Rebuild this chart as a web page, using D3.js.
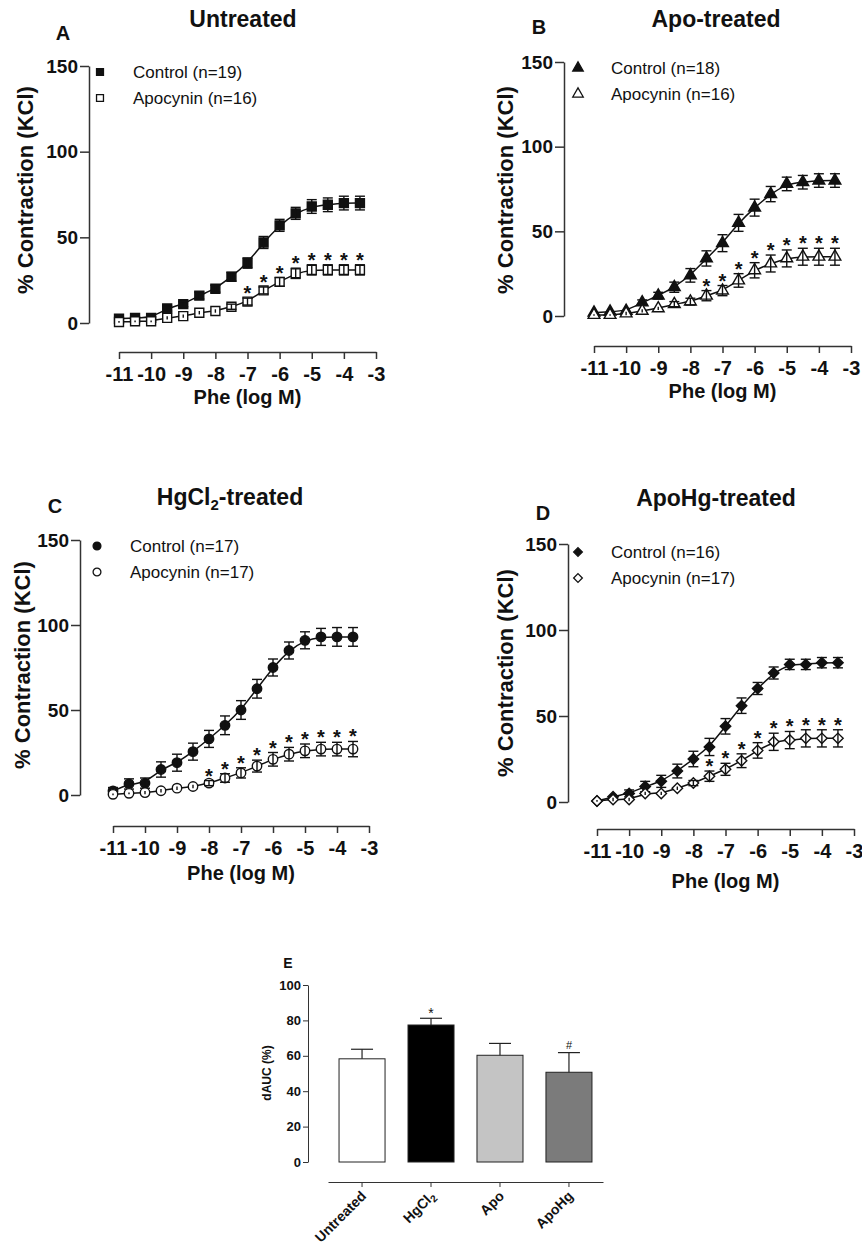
<!DOCTYPE html>
<html>
<head>
<meta charset="utf-8">
<script src="https://cdnjs.cloudflare.com/ajax/libs/d3/7.8.5/d3.min.js"></script>
<style>
	body { margin: 0; background: #fff; }
	svg { display: block; }
	text { font-family: "Liberation Sans", Arial, sans-serif; fill: #111; }
</style>
</head>
<body>
<script>
// Phe concentrations (log M)
var logPhe = [-11, -10.5, -10, -9.5, -9, -8.5, -8, -7.5, -7, -6.5, -6, -5.5, -5, -4.5, -4, -3.5];
var xTicks = [-11, -10, -9, -8, -7, -6, -5, -4, -3];
var yTicks = [0, 50, 100, 150];

// A - Untreated
var untreatedControl    = [2.5, 3, 3, 8.5, 11, 16, 20, 27, 35, 47, 57, 64, 68, 69, 70, 70];
var untreatedControlErr = [1, 1, 1, 1.5, 1.5, 2, 2, 2.5, 3, 3.5, 3.5, 3.5, 4, 4, 4, 4];
var untreatedApo        = [0.6, 1, 1, 3, 4, 6, 7, 9.5, 12.5, 19, 24, 29, 31, 31, 31, 31];
var untreatedApoErr     = [0.5, 0.5, 0.5, 1, 1, 1, 1, 1.5, 2, 2, 2.5, 3, 3, 3, 3, 3];
var untreatedStars      = [-7, -6.5, -6, -5.5, -5, -4.5, -4, -3.5];

// B - Apo-treated
var apoControl    = [2, 2.5, 3, 8, 12, 17, 24, 34, 43, 55, 64, 72, 78, 79, 80, 80];
var apoControlErr = [1, 1, 1, 1.5, 2, 3, 4, 4.5, 5, 5, 5, 4.5, 4, 4, 4, 4];
var apoApo        = [0.6, 0.6, 1.5, 3, 4.5, 7, 8.5, 12, 15, 21, 27, 31, 34, 35, 35, 35];
var apoApoErr     = [0.5, 0.5, 1, 1, 1, 1.5, 2, 3, 3, 4, 4.5, 5, 5, 5, 5, 5];
var apoStars      = [-7.5, -7, -6.5, -6, -5.5, -5, -4.5, -4, -3.5];

// C - HgCl2-treated
var hgControl    = [2.4, 6.5, 7, 15, 19, 25.5, 33, 41, 50, 62.5, 75, 85, 91, 93, 93, 93];
var hgControlErr = [2, 3, 3, 4.5, 5, 5, 5, 5.5, 5.5, 5.5, 5, 5, 5, 5, 5.5, 5.5];
var hgApo        = [0.4, 1, 1.4, 2.5, 4, 5, 7, 10, 13, 17, 21, 24, 26, 27, 27, 27];
var hgApoErr     = [0.5, 0.5, 1, 1, 1, 1, 1.5, 2.5, 3, 3.5, 4, 4, 4, 4, 4, 4.5];
var hgStars      = [-8, -7.5, -7, -6.5, -6, -5.5, -5, -4.5, -4, -3.5];

// D - ApoHg-treated
var apoHgControl    = [0.6, 3, 5, 9, 12, 18, 25, 32, 44, 56, 66, 75, 80, 80, 81, 81];
var apoHgControlErr = [1, 1, 2, 3, 3.5, 4, 4.5, 5, 4.5, 4.5, 3.5, 3.5, 3, 3, 3, 3];
var apoHgApo        = [0.6, 1.4, 1.4, 5, 5, 8, 11, 15, 19, 24, 30, 35, 36, 37, 37, 37];
var apoHgApoErr     = [0.5, 1, 1, 1, 1, 1, 1.5, 3, 3.5, 4, 4.5, 5, 5, 5, 5, 5];
var apoHgStars      = [-7.5, -7, -6.5, -6, -5.5, -5, -4.5, -4, -3.5];

// E - dAUC bars
var groups    = ["Untreated", "HgCl2", "Apo", "ApoHg"];
var dAUC      = [58.3, 77.4, 60.3, 50.7];
var dAUCErr   = [5.4, 3.8, 6.7, 11.1];
var dAUCMarks = ["", "*", "", "#"];
var dAUCTicks = [0, 20, 40, 60, 80, 100];

var svg = d3.select("body")
			.append("svg")
			.attr("width", 862)
			.attr("height", 1249);

// square rotated 45 degrees, as in the original figure
var diamond = d3.symbolDiamond2 || d3.symbolDiamond;

// panel layout (pixels)
var panels = [
	{letter: "A", title: "Untreated", sym: d3.symbolSquare, size: 80,
	 ctrl: untreatedControl, ctrlErr: untreatedControlErr, apo: untreatedApo, apoErr: untreatedApoErr,
	 stars: untreatedStars, n: ["19", "16"],
	 x0: 119, x1: 376, yt: 66, yb: 323, ax: 89, xa: 352,
	 tx: 243, ty: 27, lx: 63, ly: 40, legX: 100, legY: 72, ylabX: 33, ylabY: 190, xlabY: 404},
	{letter: "B", title: "Apo-treated", sym: d3.symbolTriangle, size: 60,
	 ctrl: apoControl, ctrlErr: apoControlErr, apo: apoApo, apoErr: apoApoErr,
	 stars: apoStars, n: ["18", "16"],
	 x0: 594, x1: 851, yt: 62, yb: 316, ax: 564, xa: 346,
	 tx: 716, ty: 27, lx: 539, ly: 34, legX: 578, legY: 68, ylabX: 513, ylabY: 190, xlabY: 398},
	{letter: "C", title: "HgCl", sym: d3.symbolCircle, size: 70,
	 ctrl: hgControl, ctrlErr: hgControlErr, apo: hgApo, apoErr: hgApoErr,
	 stars: hgStars, n: ["17", "17"],
	 x0: 113, x1: 369, yt: 540, yb: 795, ax: 80, xa: 826,
	 tx: 230, ty: 505, lx: 55, ly: 513, legX: 97, legY: 546, ylabX: 30, ylabY: 665, xlabY: 880},
	{letter: "D", title: "ApoHg-treated", sym: diamond, size: 70,
	 ctrl: apoHgControl, ctrlErr: apoHgControlErr, apo: apoHgApo, apoErr: apoHgApoErr,
	 stars: apoHgStars, n: ["16", "17"],
	 x0: 597, x1: 854, yt: 544, yb: 802, ax: 568, xa: 829,
	 tx: 716, ty: 506, lx: 543, ly: 520, legX: 578, legY: 552, ylabX: 513, ylabY: 673, xlabY: 888}
];

function styleAxis(sel, fontSize) {
	sel.selectAll("path, line").attr("stroke", "#333").attr("stroke-width", 1.5);
	sel.selectAll("text")
		.style("font-family", "'Liberation Sans', Arial, sans-serif")
		.style("font-size", fontSize + "px")
		.style("font-weight", "bold")
		.attr("fill", "#111");
}

// plain hyphen minus like the original figure
function plain(d) { return String(d); }

function drawPanel(p) {
	var g = svg.append("g");
	var xScale = d3.scaleLinear().domain([-11, -3]).range([p.x0, p.x1]);
	var yScale = d3.scaleLinear().domain([0, 150]).range([p.yb, p.yt]);

	// axes
	g.append("g")
		.attr("transform", "translate(" + p.ax + ",0)")
		.call(d3.axisLeft(yScale).tickValues(yTicks).tickFormat(plain).tickSize(9).tickSizeOuter(0).tickPadding(2))
		.call(styleAxis, 19);

	g.append("g")
		.attr("transform", "translate(0," + p.xa + ")")
		.call(d3.axisBottom(xScale).tickValues(xTicks).tickFormat(plain).tickSize(7).tickSizeOuter(0).tickPadding(8))
		.call(styleAxis, 20);

	// titles
	var t = g.append("text")
		.attr("x", p.tx).attr("y", p.ty)
		.attr("text-anchor", "middle")
		.style("font-size", "23px").style("font-weight", "bold")
		.text(p.title);
	if (p.title == "HgCl") {
		t.append("tspan").attr("dy", 5).style("font-size", "15px").text("2");
		t.append("tspan").attr("dy", -5).text("-treated");
	}
	g.append("text")
		.attr("x", p.lx).attr("y", p.ly)
		.attr("text-anchor", "middle")
		.style("font-size", "20px").style("font-weight", "bold")
		.text(p.letter);

	g.append("text")
		.attr("transform", "translate(" + p.ylabX + "," + p.ylabY + ") rotate(-90)")
		.attr("text-anchor", "middle")
		.style("font-size", "22px").style("font-weight", "bold")
		.text("% Contraction (KCl)");

	g.append("text")
		.attr("x", (p.x0 + p.x1) / 2).attr("y", p.xlabY)
		.attr("text-anchor", "middle")
		.style("font-size", "20px").style("font-weight", "bold")
		.text("Phe (log M)");

	// fitted curves
	var line = d3.line()
		.x(function(d) { return xScale(d[0]); })
		.y(function(d) { return yScale(d[1]); })
		.curve(d3.curveBasis);

	var series = [
		{vals: p.ctrl, err: p.ctrlErr, fill: "#111"},
		{vals: p.apo, err: p.apoErr, fill: "#fff"}
	];

	series.forEach(function(s) {
		var pts = logPhe.map(function(v, i) { return [v, s.vals[i], s.err[i]]; });

		g.append("path")
			.datum(pts)
			.attr("d", line)
			.attr("fill", "none")
			.attr("stroke", "#111")
			.attr("stroke-width", 1.5);

		g.selectAll(null).data(pts).enter()
			.append("path")
			.attr("transform", function(d) {
				return "translate(" + xScale(d[0]) + "," + yScale(d[1]) + ")";
			})
			.attr("d", d3.symbol().type(p.sym).size(p.size))
			.attr("fill", s.fill)
			.attr("stroke", "#111")
			.attr("stroke-width", 1.4);

		// error bars
		var eb = g.selectAll(null).data(pts).enter().append("g")
			.attr("stroke", "#111").attr("stroke-width", 1.4);
		eb.append("line")
			.attr("x1", function(d) { return xScale(d[0]); })
			.attr("x2", function(d) { return xScale(d[0]); })
			.attr("y1", function(d) { return yScale(d[1] - d[2]); })
			.attr("y2", function(d) { return yScale(d[1] + d[2]); });
		eb.filter(function(d) { return d[2] > 1.2; }).each(function(d) {
			var e = d3.select(this);
			[d[1] - d[2], d[1] + d[2]].forEach(function(v) {
				e.append("line")
					.attr("x1", xScale(d[0]) - 5).attr("x2", xScale(d[0]) + 5)
					.attr("y1", yScale(v)).attr("y2", yScale(v));
			});
		});
	});

	// significance stars above apocynin
	g.selectAll(null).data(p.stars).enter()
		.append("text")
		.attr("x", function(d) { return xScale(d); })
		.attr("y", function(d) {
			var i = logPhe.indexOf(d);
			return yScale(p.apo[i] + p.apoErr[i]) + 2;
		})
		.attr("text-anchor", "middle")
		.style("font-size", "20px").style("font-weight", "bold")
		.text("*");

	// legend
	var labels = ["Control (n=" + p.n[0] + ")", "Apocynin (n=" + p.n[1] + ")"];
	labels.forEach(function(lab, i) {
		var ly = p.legY + i * 26;
		g.append("path")
			.attr("transform", "translate(" + p.legX + "," + ly + ")")
			.attr("d", d3.symbol().type(p.sym).size(48))
			.attr("fill", i == 0 ? "#111" : "#fff")
			.attr("stroke", "#111")
			.attr("stroke-width", 1.3);
		g.append("text")
			.attr("x", p.legX + 33).attr("y", ly + 6)
			.style("font-size", "17px")
			.text(lab);
	});
}

panels.forEach(drawPanel);

// Panel E - bar chart
var gE = svg.append("g");
var xE = d3.scaleBand().domain(groups).range([328, 603]).paddingInner(0.333).paddingOuter(0.16);
var yE = d3.scaleLinear().domain([0, 100]).range([1162, 985]);
var barFill = ["#fff", "#000", "#c4c4c4", "#7b7b7b"];

gE.append("g")
	.attr("transform", "translate(308,0)")
	.call(d3.axisLeft(yE).tickValues(dAUCTicks).tickFormat(plain).tickSize(5).tickSizeOuter(0).tickPadding(2))
	.call(styleAxis, 13);
gE.selectAll("path, line").attr("stroke-width", 1);

var xAxisE = gE.append("g")
	.attr("transform", "translate(0,1182)")
	.call(d3.axisBottom(xE).tickSize(5).tickSizeOuter(0).tickFormat(""))
	.call(styleAxis, 12);
xAxisE.selectAll("path, line").attr("stroke-width", 1);

// rotated group labels
groups.forEach(function(c) {
	var lab = gE.append("text")
		.attr("transform", "translate(" + (xE(c) + xE.bandwidth() / 2 + 5) + ",1197) rotate(-45)")
		.attr("text-anchor", "end")
		.style("font-size", "14px").style("font-weight", "bold");
	if (c == "HgCl2") {
		lab.text("HgCl");
		lab.append("tspan").attr("dy", 3).style("font-size", "10px").text("2");
	} else {
		lab.text(c);
	}
});

gE.selectAll("rect.bar").data(groups).enter()
	.append("rect")
	.attr("class", "bar")
	.attr("x", function(d) { return xE(d); })
	.attr("width", xE.bandwidth())
	.attr("y", function(d, i) { return yE(dAUC[i]); })
	.attr("height", function(d, i) { return yE(0) - yE(dAUC[i]); })
	.attr("fill", function(d, i) { return barFill[i]; })
	.attr("stroke", "#222")
	.attr("stroke-width", 1);

groups.forEach(function(c, i) {
	var cx = xE(c) + xE.bandwidth() / 2;
	gE.append("line")
		.attr("x1", cx).attr("x2", cx)
		.attr("y1", yE(dAUC[i])).attr("y2", yE(dAUC[i] + dAUCErr[i]))
		.attr("stroke", "#222").attr("stroke-width", 1.2);
	gE.append("line")
		.attr("x1", cx - 11).attr("x2", cx + 11)
		.attr("y1", yE(dAUC[i] + dAUCErr[i])).attr("y2", yE(dAUC[i] + dAUCErr[i]))
		.attr("stroke", "#222").attr("stroke-width", 1.2);
	if (dAUCMarks[i] != "") {
		gE.append("text")
			.attr("x", cx).attr("y", yE(dAUC[i] + dAUCErr[i]) - 4)
			.attr("text-anchor", "middle")
			.style("font-size", dAUCMarks[i] == "*" ? "14px" : "11px")
			.attr("dy", dAUCMarks[i] == "*" ? 4 : 0)
			.text(dAUCMarks[i]);
	}
});

gE.append("text")
	.attr("transform", "translate(271,1073) rotate(-90)")
	.attr("text-anchor", "middle")
	.style("font-size", "12px").style("font-weight", "bold")
	.text("dAUC (%)");

gE.append("text")
	.attr("x", 288).attr("y", 968)
	.attr("text-anchor", "middle")
	.style("font-size", "14px").style("font-weight", "bold")
	.text("E");
</script>
</body>
</html>
